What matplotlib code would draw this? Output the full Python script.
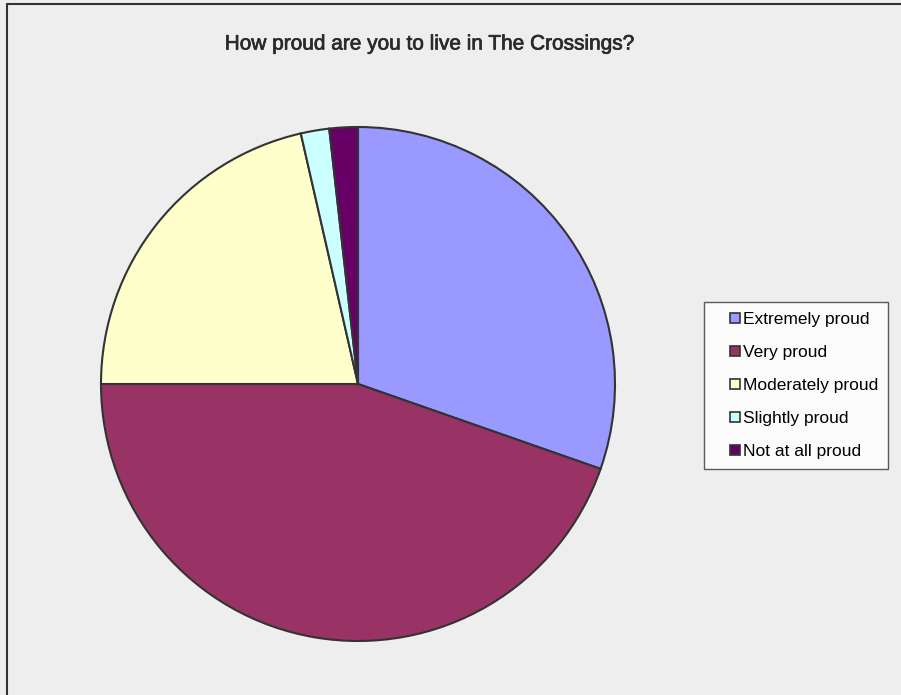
import matplotlib.pyplot as plt
import matplotlib.patheffects as pe
from matplotlib.patches import Rectangle
from matplotlib.lines import Line2D

labels = ['Extremely proud', 'Very proud', 'Moderately proud', 'Slightly proud', 'Not at all proud']
counts = [17, 25, 12, 1, 1]
colors = ['#9999FF', '#993366', '#FFFFCC', '#CCFFFF', '#660066']

plt.rcParams['font.family'] = ['Liberation Sans', 'DejaVu Sans']

W, H = 901, 695
fig = plt.figure(figsize=(W / 100, H / 100), dpi=100)
fig.patch.set_facecolor('#EEEEEE')

# outer chart border (only left/top visible in the crop)
fig.add_artist(Rectangle((7 / W, -0.05), 1.1, (H - 4) / H + 0.05, transform=fig.transFigure,
                         fill=False, edgecolor='#333333', linewidth=1.5))

# pie axes placed in pixels: centre (358, 384), radius 257
cx, cy, r = 358, 384, 257
ax = fig.add_axes([(cx - r) / W, (H - cy - r) / H, 2 * r / W, 2 * r / H])
ax.pie(counts, colors=colors, startangle=90, counterclock=False,
       wedgeprops=dict(edgecolor='#333333', linewidth=1.5))
ax.set_xlim(-1.0, 1.0)
ax.set_ylim(-1.0, 1.0)
ax.axis('off')

fig.text(430 / W, 1 - 44 / H, 'How proud are you to live in The Crossings?',
         ha='center', va='center', fontsize=15, color='#2a2a2a',
         path_effects=[pe.withStroke(linewidth=0.5, foreground='#2a2a2a')])

# square markers sitting near the text, like the Excel legend
handles = [Line2D([], [], linestyle='none', marker='s', markersize=7.2,
                  markerfacecolor=c, markeredgecolor='#333333', markeredgewidth=1.2)
           for c in colors]
leg = fig.legend(handles, labels, loc='upper left', bbox_to_anchor=(704 / W, 1 - 302 / H),
                 frameon=True, fancybox=False, edgecolor='#333333', facecolor='white',
                 fontsize=12.5, numpoints=1, handlelength=2.45, handletextpad=-0.8,
                 labelspacing=1.02, borderpad=0.58, borderaxespad=0)
leg.get_frame().set_linewidth(1)

fig.savefig('out.png', dpi=100, facecolor=fig.get_facecolor())
